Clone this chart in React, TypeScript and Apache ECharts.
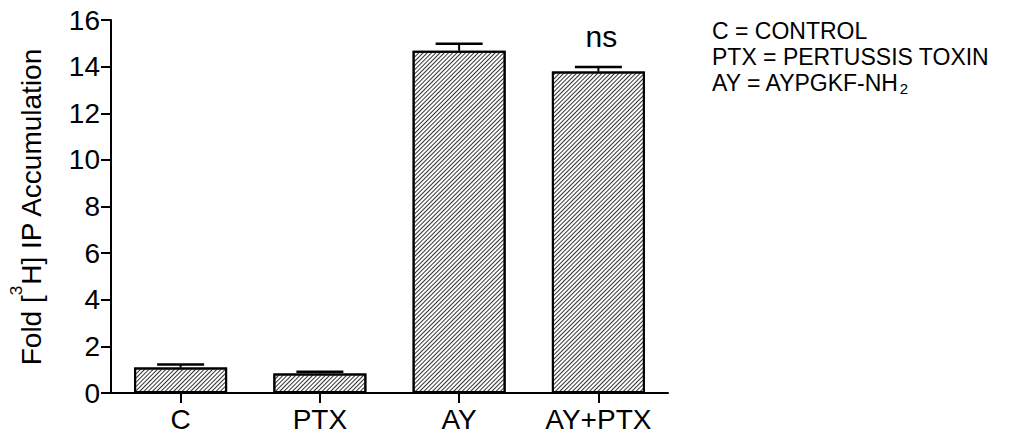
import React, { useEffect, useRef } from "react";
import * as echarts from "echarts";

const categories = ["C", "PTX", "AY", "AY+PTX"];
const means = [1.09, 0.84, 14.68, 13.79];
const errors = [0.13, 0.07, 0.3, 0.19];
const significance = ["", "", "", "ns"];
const yTicks = { min: 0, max: 16, interval: 2 };
const legendLines = ["C = CONTROL", "PTX = PERTUSSIS TOXIN", "AY = AYPGKF-NH"];

const FONT = "Liberation Sans, Arial, Helvetica, sans-serif";

export default function App() {
  const ref = useRef<HTMLDivElement>(null);

  useEffect(() => {
    if (!ref.current) return;
    const chart = echarts.init(ref.current, undefined, { renderer: "svg" });

    const errData = categories.map((c, i) => [i, means[i], means[i] + errors[i]]);

    const option: any = {
      animation: false,
      backgroundColor: "#fff",
      grid: { left: 108, right: 366, top: 20, bottom: 46, containLabel: false },
      xAxis: {
        type: "category",
        data: categories,
        axisLine: { show: true, lineStyle: { color: "#000", width: 2 } },
        axisTick: { show: true, alignWithLabel: true, length: 10, lineStyle: { color: "#000", width: 2 } },
        axisLabel: { color: "#000", fontSize: 28, fontFamily: FONT, margin: 12 },
        splitLine: { show: false },
      },
      yAxis: {
        type: "value",
        min: yTicks.min,
        max: yTicks.max,
        interval: yTicks.interval,
        name: "{n|Fold [}{sup|3}{n|H] IP Accumulation}",
        nameLocation: "middle",
        nameRotate: 90,
        nameGap: 56,
        nameTextStyle: {
          color: "#000",
          fontFamily: FONT,
          fontSize: 28,
          rich: {
            n: { fontSize: 28, fontFamily: FONT, color: "#000" },
            sup: { fontSize: 17, fontFamily: FONT, color: "#000", padding: [0, 0, 30, 0] },
          },
        },
        axisLine: { show: true, lineStyle: { color: "#000", width: 2 } },
        axisTick: { show: true, length: 10, lineStyle: { color: "#000", width: 2 } },
        axisLabel: { color: "#000", fontSize: 28, fontFamily: FONT, margin: 11 },
        splitLine: { show: false },
      },
      series: [
        {
          type: "bar",
          data: means,
          barWidth: 93,
          itemStyle: {
            color: "#fff",
            borderColor: "#000",
            borderWidth: 2,
            decal: {
              symbol: "rect",
              symbolSize: 1,
              dashArrayX: [1, 0],
              dashArrayY: [1, 2],
              rotation: -Math.PI / 4,
              color: "#333",
              backgroundColor: "#fff",
            },
          },
          z: 2,
        },
        {
          type: "custom",
          data: errData,
          z: 3,
          renderItem: (params: any, api: any) => {
            const base = api.coord([api.value(0), api.value(1)]);
            const top = api.coord([api.value(0), api.value(2)]);
            const half = 23.5;
            const children: any[] = [
              {
                type: "line",
                shape: { x1: base[0], y1: base[1], x2: top[0], y2: top[1] },
                style: { stroke: "#000", lineWidth: 2 },
              },
              {
                type: "line",
                shape: { x1: top[0] - half, y1: top[1], x2: top[0] + half, y2: top[1] },
                style: { stroke: "#000", lineWidth: 2.5 },
              },
            ];
            const s = significance[params.dataIndex];
            if (s) {
              children.push({
                type: "text",
                x: top[0] + 3,
                y: top[1] - 16,
                style: {
                  text: s,
                  fill: "#000",
                  fontSize: 30,
                  fontFamily: FONT,
                  align: "center",
                  verticalAlign: "bottom",
                },
              });
            }
            return { type: "group", children };
          },
        },
      ],
      graphic: [
        {
          type: "text",
          left: 712,
          top: 19,
          style: {
            text:
              "{n|" + legendLines[0] + "}\n{n|" + legendLines[1] + "}\n{n|" + legendLines[2] + "}{sub|2}",
            fill: "#000",
            fontFamily: FONT,
            rich: {
              n: { fontSize: 23, lineHeight: 26, fontFamily: FONT, color: "#000" },
              sub: { fontSize: 15, lineHeight: 15, fontFamily: FONT, color: "#000", padding: [12, 0, 0, 0] },
            },
          },
        },
      ],
    };

    chart.setOption(option);
    return () => chart.dispose();
  }, []);

  return (
    <div
      ref={ref}
      style={{ position: "fixed", left: 0, top: 0, width: 1034, height: 439, background: "#fff" }}
    />
  );
}
